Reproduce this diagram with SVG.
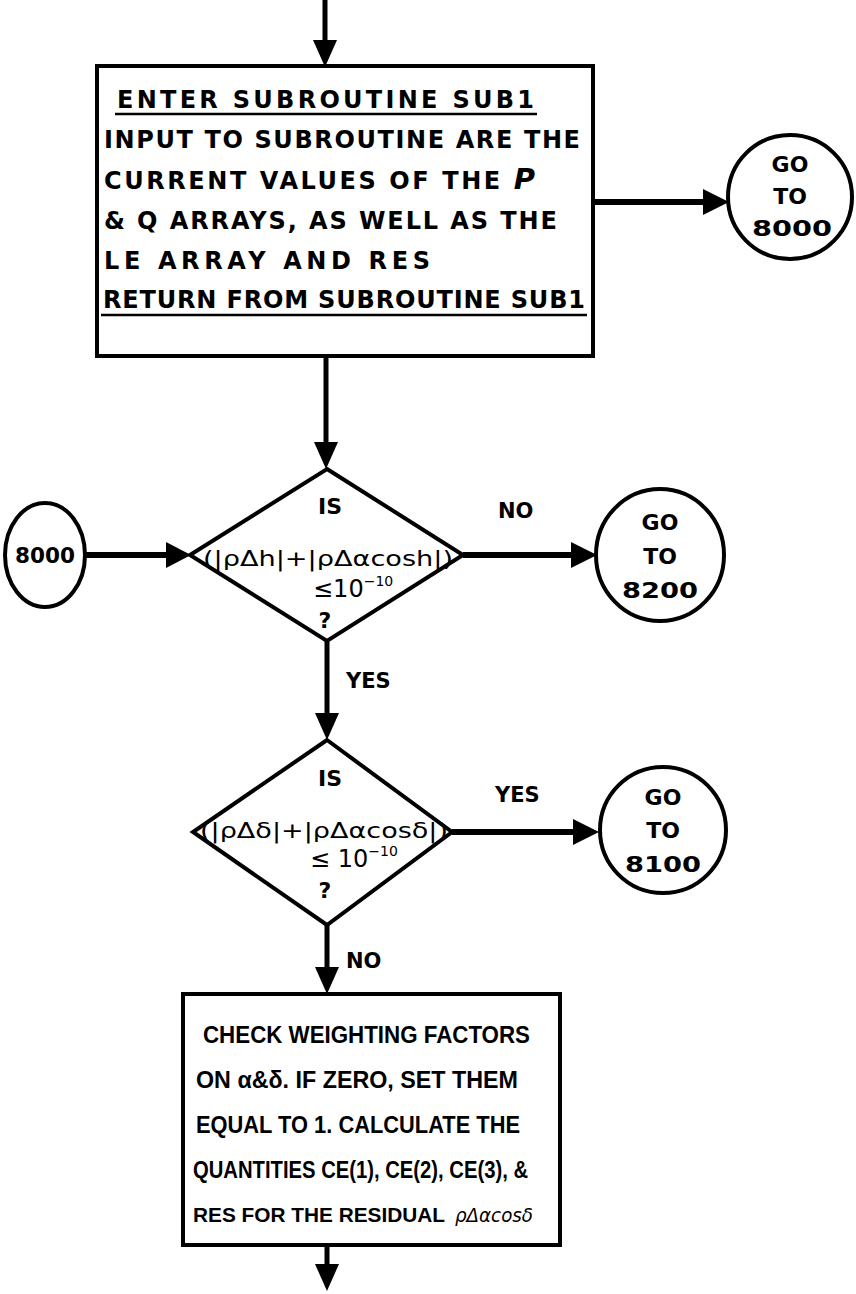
<svg xmlns="http://www.w3.org/2000/svg" width="856" height="1294" viewBox="0 0 856 1294">
  <style>
    .shape { fill: #fff; stroke: #000; stroke-width: 4; }
    .wire { stroke: #000; stroke-width: 5; fill: none; }
    .head { fill: #000; stroke: none; }
    .t { font-family: "Liberation Sans", Arial, sans-serif; font-weight: bold; font-size: 23px; fill: #000; }
    .w { font-family: "DejaVu Sans", Verdana, sans-serif; font-weight: bold; font-size: 24px; fill: #000; }
    .g { font-family: "DejaVu Sans", Verdana, sans-serif; font-weight: bold; font-size: 22px; fill: #000; text-anchor: middle; }
    .l { font-family: "DejaVu Sans", Verdana, sans-serif; font-weight: bold; font-size: 21px; fill: #000; }
    .m { font-family: "DejaVu Sans", Verdana, sans-serif; font-size: 22px; fill: #000; }
    .u { stroke: #000; stroke-width: 2.5; }
  </style>
  <rect width="856" height="1294" fill="#fff"/>

  <!-- connectors -->
  <g id="connectors">
    <line class="wire" x1="325" y1="0" x2="325" y2="44"/>
    <polygon class="head" points="313,40 337,40 325,67"/>

    <line class="wire" x1="593" y1="202" x2="706" y2="202" style="stroke-width:6"/>
    <polygon class="head" points="703,189 703,215 729,202"/>

    <line class="wire" x1="326" y1="356" x2="326" y2="446"/>
    <polygon class="head" points="314,442 338,442 326,469"/>

    <line class="wire" x1="85" y1="555" x2="170" y2="555" style="stroke-width:6"/>
    <polygon class="head" points="166,542 166,568 191,555"/>

    <line class="wire" x1="463" y1="555" x2="574" y2="555" style="stroke-width:6"/>
    <polygon class="head" points="571,542 571,568 597,555"/>

    <line class="wire" x1="327" y1="641" x2="327" y2="716"/>
    <polygon class="head" points="315,713 339,713 327,740"/>

    <line class="wire" x1="452" y1="832" x2="576" y2="832" style="stroke-width:6"/>
    <polygon class="head" points="573,819 573,845 599,832"/>

    <line class="wire" x1="327" y1="925" x2="327" y2="970"/>
    <polygon class="head" points="315,967 339,967 327,994"/>

    <line class="wire" x1="327" y1="1245" x2="327" y2="1268"/>
    <polygon class="head" points="315,1264 339,1264 327,1291"/>

    <text class="l" x="498" y="518">NO</text>
    <text class="l" x="346" y="688">YES</text>
    <text class="l" x="495" y="802">YES</text>
    <text class="l" x="346" y="968">NO</text>
  </g>

  <!-- subroutine call box -->
  <g id="sub1">
    <rect class="shape" x="97" y="66" width="496" height="290"/>
    <text class="w" x="117" y="108" textLength="417" lengthAdjust="spacing">ENTER SUBROUTINE SUB1</text>
    <line class="u" x1="115" y1="114" x2="537" y2="114"/>
    <text class="w" x="104" y="148" textLength="476" lengthAdjust="spacing">INPUT TO SUBROUTINE ARE THE</text>
    <text class="w" x="104" y="189" textLength="431" lengthAdjust="spacing">CURRENT VALUES OF THE <tspan style="font-size:29px;font-style:italic">P</tspan></text>
    <text class="w" x="104" y="229" textLength="453" lengthAdjust="spacing">&amp; Q ARRAYS, AS WELL AS THE</text>
    <text class="w" x="104" y="269" textLength="326" lengthAdjust="spacing">LE ARRAY AND RES</text>
    <text class="w" x="103" y="308" textLength="482" lengthAdjust="spacing">RETURN FROM SUBROUTINE SUB1</text>
    <line class="u" x1="101" y1="315" x2="587" y2="315"/>
  </g>

  <!-- connector circle: go to 8000 -->
  <g id="goto8000">
    <circle class="shape" cx="790" cy="197" r="62"/>
    <text class="g" x="790" y="172">GO</text>
    <text class="g" x="790" y="204">TO</text>
    <text class="g" x="792" y="236" textLength="80" lengthAdjust="spacingAndGlyphs">8000</text>
  </g>

  <!-- entry label 8000 -->
  <g id="label8000">
    <ellipse class="shape" cx="45" cy="555" rx="40" ry="52"/>
    <text class="g" x="45" y="563" textLength="60" lengthAdjust="spacingAndGlyphs">8000</text>
  </g>

  <!-- first test -->
  <g id="test1">
    <polygon class="shape" points="327,469 463,555 327,641 190,555"/>
    <text class="g" x="330" y="514">IS</text>
    <text class="m" x="203" y="566" textLength="250" lengthAdjust="spacingAndGlyphs">(|ρΔh|+|ρΔαcosh|)</text>
    <text class="m" x="313" y="597" style="font-size:24px">≤10<tspan style="font-size:14px" dy="-11">−10</tspan></text>
    <text class="g" x="325" y="628">?</text>
  </g>

  <!-- connector circle: go to 8200 -->
  <g id="goto8200">
    <ellipse class="shape" cx="660" cy="555" rx="64" ry="66"/>
    <text class="g" x="660" y="530">GO</text>
    <text class="g" x="660" y="564">TO</text>
    <text class="g" x="660" y="598" textLength="76" lengthAdjust="spacingAndGlyphs">8200</text>
  </g>

  <!-- second test -->
  <g id="test2">
    <polygon class="shape" points="327,740 452,832 327,925 193,832"/>
    <text class="g" x="330" y="786">IS</text>
    <text class="m" x="200" y="838" textLength="248" lengthAdjust="spacingAndGlyphs">(|ρΔδ|+|ρΔαcosδ|)</text>
    <text class="m" x="310" y="867" style="font-size:24px">≤ 10<tspan style="font-size:14px" dy="-11">−10</tspan></text>
    <text class="g" x="325" y="898">?</text>
  </g>

  <!-- connector circle: go to 8100 -->
  <g id="goto8100">
    <circle class="shape" cx="663" cy="830" r="63"/>
    <text class="g" x="663" y="805">GO</text>
    <text class="g" x="663" y="838">TO</text>
    <text class="g" x="663" y="872" textLength="76" lengthAdjust="spacingAndGlyphs">8100</text>
  </g>

  <!-- weighting factor step -->
  <g id="weights">
    <rect class="shape" x="183" y="994" width="377" height="251"/>
    <text class="t" x="203" y="1043" textLength="327" lengthAdjust="spacingAndGlyphs">CHECK WEIGHTING FACTORS</text>
    <text class="t" x="196" y="1088" textLength="322" lengthAdjust="spacingAndGlyphs">ON α&amp;δ. IF ZERO, SET THEM</text>
    <text class="t" x="196" y="1133" textLength="324" lengthAdjust="spacingAndGlyphs">EQUAL TO 1. CALCULATE THE</text>
    <text class="t" x="193" y="1178" textLength="335" lengthAdjust="spacingAndGlyphs">QUANTITIES CE(1), CE(2), CE(3), &amp;</text>
    <text class="t" x="193" y="1222" style="font-size:20px" textLength="252" lengthAdjust="spacingAndGlyphs">RES FOR THE RESIDUAL</text>
    <text class="m" x="455" y="1222" style="font-size:19px;font-style:italic" textLength="78" lengthAdjust="spacingAndGlyphs">ρΔαcosδ</text>
  </g>
</svg>
